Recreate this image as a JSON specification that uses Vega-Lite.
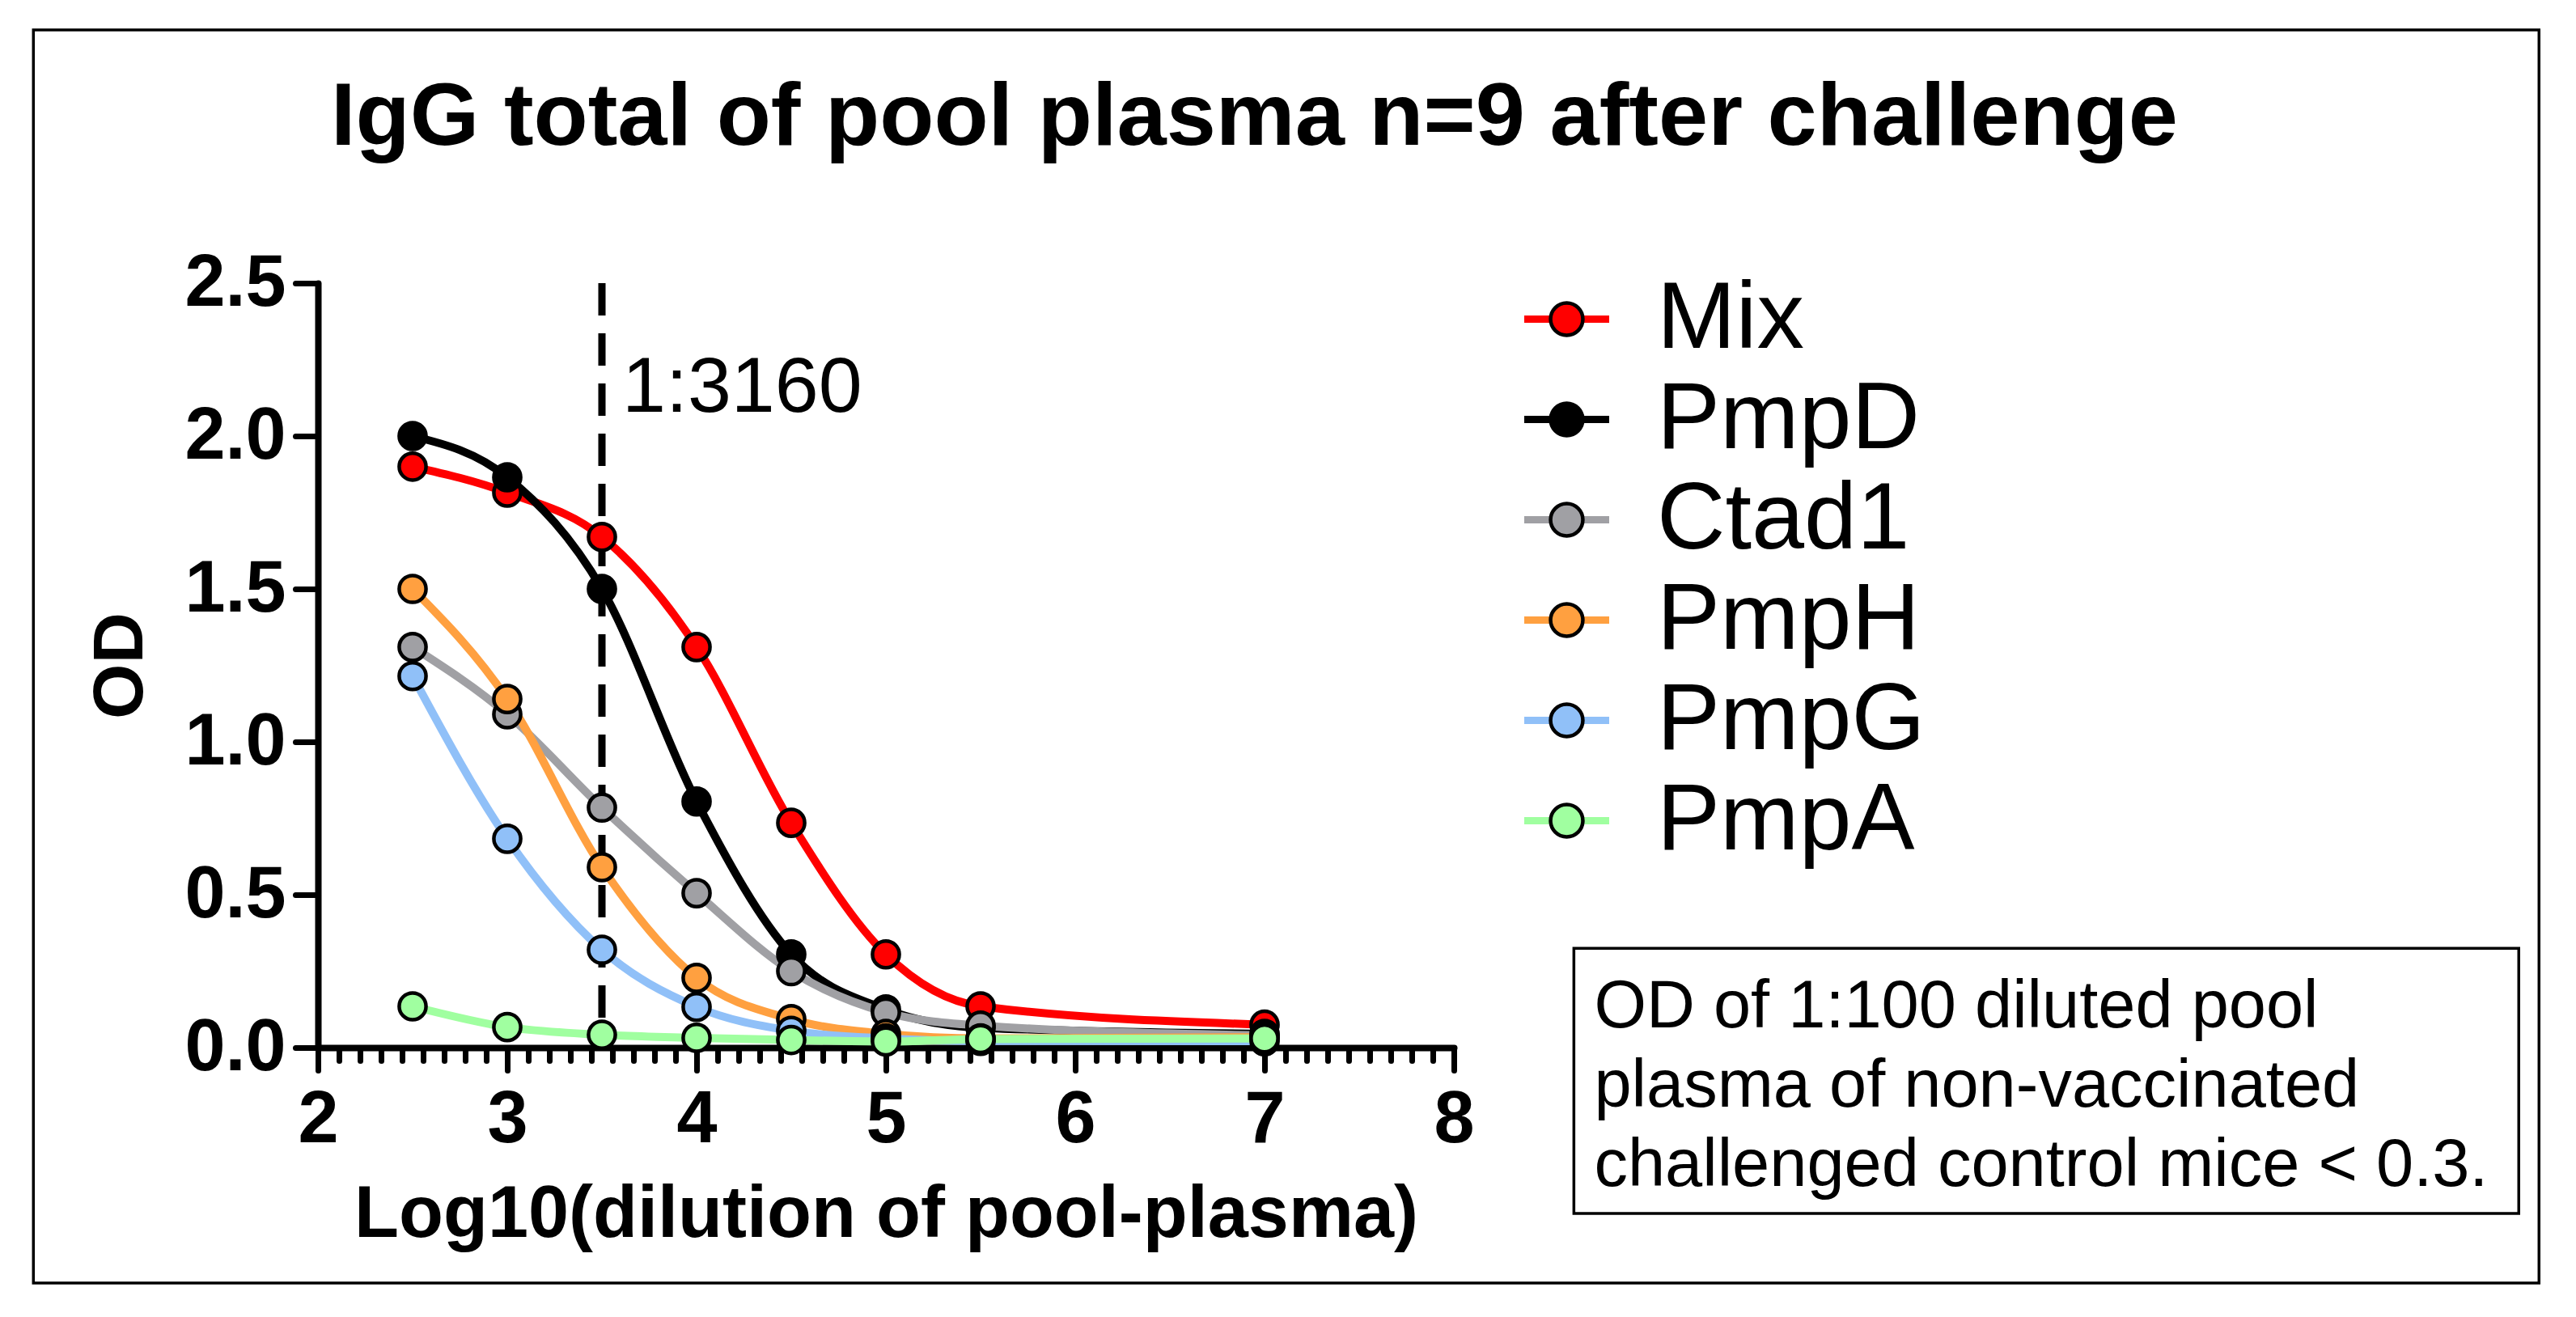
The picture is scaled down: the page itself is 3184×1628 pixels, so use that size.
{
  "$schema": "https://vega.github.io/schema/vega-lite/v6.json",
  "width": 1404,
  "height": 945,
  "padding": {"left": 39, "top": 35, "right": 40, "bottom": 40},
  "background": "#ffffff",
  "title": {
    "text": "IgG total of pool plasma n=9 after challenge",
    "anchor": "start",
    "frame": "group",
    "dx": 16,
    "offset": -167,
    "font": "Liberation Sans",
    "fontSize": 110,
    "fontWeight": "bold",
    "color": "#000000"
  },
  "data": {
    "values": [
      {"antigen": "Mix", "log_dilution": 2.5, "od": 1.9},
      {"antigen": "Mix", "log_dilution": 3, "od": 1.815},
      {"antigen": "Mix", "log_dilution": 3.5, "od": 1.67},
      {"antigen": "Mix", "log_dilution": 4, "od": 1.31},
      {"antigen": "Mix", "log_dilution": 4.5, "od": 0.735},
      {"antigen": "Mix", "log_dilution": 5, "od": 0.305},
      {"antigen": "Mix", "log_dilution": 5.5, "od": 0.135},
      {"antigen": "Mix", "log_dilution": 7, "od": 0.075},
      {"antigen": "PmpD", "log_dilution": 2.5, "od": 2.0},
      {"antigen": "PmpD", "log_dilution": 3, "od": 1.865},
      {"antigen": "PmpD", "log_dilution": 3.5, "od": 1.5},
      {"antigen": "PmpD", "log_dilution": 4, "od": 0.805},
      {"antigen": "PmpD", "log_dilution": 4.5, "od": 0.305},
      {"antigen": "PmpD", "log_dilution": 5, "od": 0.125},
      {"antigen": "PmpD", "log_dilution": 5.5, "od": 0.065},
      {"antigen": "PmpD", "log_dilution": 7, "od": 0.045},
      {"antigen": "Ctad1", "log_dilution": 2.5, "od": 1.31},
      {"antigen": "Ctad1", "log_dilution": 3, "od": 1.09},
      {"antigen": "Ctad1", "log_dilution": 3.5, "od": 0.785},
      {"antigen": "Ctad1", "log_dilution": 4, "od": 0.505},
      {"antigen": "Ctad1", "log_dilution": 4.5, "od": 0.25},
      {"antigen": "Ctad1", "log_dilution": 5, "od": 0.115},
      {"antigen": "Ctad1", "log_dilution": 5.5, "od": 0.072},
      {"antigen": "Ctad1", "log_dilution": 7, "od": 0.04},
      {"antigen": "PmpH", "log_dilution": 2.5, "od": 1.5},
      {"antigen": "PmpH", "log_dilution": 3, "od": 1.14},
      {"antigen": "PmpH", "log_dilution": 3.5, "od": 0.59},
      {"antigen": "PmpH", "log_dilution": 4, "od": 0.228},
      {"antigen": "PmpH", "log_dilution": 4.5, "od": 0.093},
      {"antigen": "PmpH", "log_dilution": 5, "od": 0.045},
      {"antigen": "PmpH", "log_dilution": 5.5, "od": 0.03},
      {"antigen": "PmpH", "log_dilution": 7, "od": 0.034},
      {"antigen": "PmpG", "log_dilution": 2.5, "od": 1.215},
      {"antigen": "PmpG", "log_dilution": 3, "od": 0.683},
      {"antigen": "PmpG", "log_dilution": 3.5, "od": 0.32},
      {"antigen": "PmpG", "log_dilution": 4, "od": 0.133},
      {"antigen": "PmpG", "log_dilution": 4.5, "od": 0.055},
      {"antigen": "PmpG", "log_dilution": 5, "od": 0.03},
      {"antigen": "PmpG", "log_dilution": 5.5, "od": 0.022},
      {"antigen": "PmpG", "log_dilution": 7, "od": 0.021},
      {"antigen": "PmpA", "log_dilution": 2.5, "od": 0.135},
      {"antigen": "PmpA", "log_dilution": 3, "od": 0.067},
      {"antigen": "PmpA", "log_dilution": 3.5, "od": 0.042},
      {"antigen": "PmpA", "log_dilution": 4, "od": 0.032},
      {"antigen": "PmpA", "log_dilution": 4.5, "od": 0.025},
      {"antigen": "PmpA", "log_dilution": 5, "od": 0.02},
      {"antigen": "PmpA", "log_dilution": 5.5, "od": 0.028},
      {"antigen": "PmpA", "log_dilution": 7, "od": 0.03}
    ]
  },
  "layer": [
    {
      "data": {"values": [{"box": "frame"}]},
      "mark": {"type": "rect", "filled": false, "stroke": "#000000", "strokeWidth": 3.5},
      "encoding": {
        "x": {"datum": 0.497, "axis": null},
        "x2": {"datum": 13.732},
        "y": {"datum": 3.328},
        "y2": {"datum": -0.77}
      }
    },
    {
      "data": {"values": [{"box": "note"}]},
      "mark": {"type": "rect", "filled": false, "stroke": "#000000", "strokeWidth": 3.5},
      "encoding": {
        "x": {"datum": 8.634, "axis": null},
        "x2": {"datum": 13.625},
        "y": {"datum": 0.325},
        "y2": {"datum": -0.542}
      }
    },
    {
      "data": {"values": [{"cutoff": 3.5}]},
      "mark": {"type": "rule", "stroke": "#000000", "strokeWidth": 9, "strokeDash": [40, 22]},
      "encoding": {
        "x": {"field": "cutoff", "type": "quantitative", "axis": null},
        "y": {"datum": 2.5},
        "y2": {"datum": 0}
      }
    },
    {
      "mark": {"type": "line", "interpolate": "monotone", "strokeWidth": 10, "strokeCap": "round"},
      "encoding": {
        "x": {
          "field": "log_dilution",
          "type": "quantitative",
          "scale": {"domain": [2, 8], "nice": false, "zero": false},
          "axis": {
            "orient": "bottom",
            "values": [2, 3, 4, 5, 6, 7, 8],
            "format": "d",
            "title": "Log10(dilution of pool-plasma)",
            "titleFont": "Liberation Sans",
            "titleFontSize": 90,
            "titleFontWeight": "bold",
            "titleColor": "#000000",
            "titlePadding": 28,
            "labelFont": "Liberation Sans",
            "labelFontSize": 90,
            "labelFontWeight": "bold",
            "labelColor": "#000000",
            "labelPadding": 17,
            "labelFlush": false,
            "labelOverlap": false,
            "tickSize": 28,
            "tickWidth": 7,
            "tickColor": "#000000",
            "tickCap": "round",
            "domainColor": "#000000",
            "domainWidth": 8,
            "domainCap": "round",
            "grid": false
          }
        },
        "y": {
          "field": "od",
          "type": "quantitative",
          "scale": {"domain": [0, 2.5], "nice": false, "zero": false},
          "axis": {
            "values": [0, 0.5, 1, 1.5, 2, 2.5],
            "format": ".1f",
            "title": "OD",
            "titleFont": "Liberation Sans",
            "titleFontSize": 88,
            "titleFontWeight": "bold",
            "titleColor": "#000000",
            "titlePadding": 34,
            "labelFont": "Liberation Sans",
            "labelFontSize": 90,
            "labelFontWeight": "bold",
            "labelColor": "#000000",
            "labelPadding": 12,
            "labelFlush": false,
            "labelOverlap": false,
            "tickSize": 28,
            "tickWidth": 7,
            "tickColor": "#000000",
            "tickCap": "round",
            "domainColor": "#000000",
            "domainWidth": 8,
            "domainCap": "round",
            "grid": false
          }
        },
        "stroke": {
          "field": "antigen",
          "type": "nominal",
          "scale": {
            "domain": ["Mix", "PmpD", "Ctad1", "PmpH", "PmpG", "PmpA"],
            "range": ["#ff0000", "#000000", "#a0a0a4", "#ffa040", "#90c0f8", "#a0ffa0"]
          },
          "legend": {
            "title": null,
            "orient": "none",
            "legendX": 1485,
            "legendY": -14,
            "padding": 0,
            "symbolType": "stroke",
            "symbolSize": 11025,
            "symbolStrokeWidth": 9,
            "labelFont": "Liberation Sans",
            "labelFontSize": 117,
            "labelColor": "#000000",
            "labelLimit": 1000,
            "labelOffset": 53,
            "rowPadding": 6,
            "zindex": 0
          }
        }
      }
    },
    {
      "mark": {"type": "point", "shape": "circle", "filled": true, "size": 1100, "stroke": "#000000", "strokeWidth": 4.5, "opacity": 1},
      "encoding": {
        "x": {
          "field": "log_dilution",
          "type": "quantitative",
          "axis": {
            "orient": "bottom",
            "values": [2.1111, 2.2222, 2.3333, 2.4444, 2.5556, 2.6667, 2.7778, 2.8889,
                       3.1111, 3.2222, 3.3333, 3.4444, 3.5556, 3.6667, 3.7778, 3.8889,
                       4.1111, 4.2222, 4.3333, 4.4444, 4.5556, 4.6667, 4.7778, 4.8889,
                       5.1111, 5.2222, 5.3333, 5.4444, 5.5556, 5.6667, 5.7778, 5.8889,
                       6.1111, 6.2222, 6.3333, 6.4444, 6.5556, 6.6667, 6.7778, 6.8889,
                       7.1111, 7.2222, 7.3333, 7.4444, 7.5556, 7.6667, 7.7778, 7.8889],
            "labels": false,
            "domain": false,
            "title": null,
            "tickSize": 16,
            "tickWidth": 7,
            "tickColor": "#000000",
            "tickCap": "round",
            "grid": false
          }
        },
        "y": {"field": "od", "type": "quantitative"},
        "fill": {
          "field": "antigen",
          "type": "nominal",
          "sort": null,
          "scale": {"range": ["#ff0000", "#000000", "#a0a0a4", "#ffa040", "#90c0f8", "#a0ffa0"]},
          "legend": {
            "title": null,
            "orient": "none",
            "legendX": 1485,
            "legendY": -14,
            "padding": 0,
            "symbolType": "M-0.38,0A0.38,0.38,0,1,1,0.38,0A0.38,0.38,0,1,1,-0.38,0Z",
            "symbolSize": 11025,
            "symbolStrokeColor": "#000000",
            "symbolStrokeWidth": 4.5,
            "labelFont": "Liberation Sans",
            "labelFontSize": 117,
            "labelOpacity": 0,
            "labelLimit": 1000,
            "labelOffset": 53,
            "rowPadding": 6,
            "zindex": 1
          }
        }
      }
    },
    {
      "data": {"values": [{"label": "1:3160", "x": 3.5, "y": 2.08}]},
      "mark": {"type": "text", "align": "left", "baseline": "alphabetic", "dx": 25, "font": "Liberation Sans", "fontSize": 97, "color": "#000000"},
      "encoding": {
        "x": {"field": "x", "type": "quantitative", "axis": null},
        "y": {"field": "y", "type": "quantitative"},
        "text": {"field": "label"}
      }
    },
    {
      "data": {"values": [{"note": "OD of 1:100 diluted pool\nplasma of non-vaccinated\nchallenged control mice < 0.3."}]},
      "mark": {"type": "text", "align": "left", "baseline": "alphabetic", "lineBreak": "\n", "lineHeight": 98, "font": "Liberation Sans", "fontSize": 83, "color": "#000000"},
      "encoding": {
        "x": {"datum": 8.741, "axis": null},
        "y": {"datum": 0.066},
        "text": {"field": "note"}
      }
    }
  ],
  "resolve": {"axis": {"x": "independent"}},
  "config": {
    "view": {"stroke": null},
    "font": "Liberation Sans"
  }
}
